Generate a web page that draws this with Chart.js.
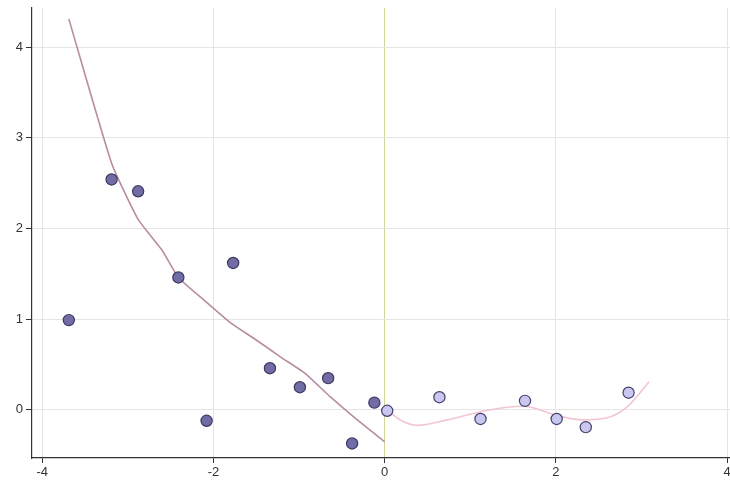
<!DOCTYPE html>
<html>
<head>
<meta charset="utf-8">
<script src="https://cdn.jsdelivr.net/npm/chart.js@4"></script>
<style>
  html, body { margin: 0; padding: 0; background: #fff; }
  canvas { display: block; }
</style>
</head>
<body>
<canvas id="chart" width="730" height="482"></canvas>
<script>
// observations left of zero (dark) and right of zero (light)
const leftX = [-3.69, -3.19, -2.88, -2.41, -2.08, -1.77, -1.34, -0.99, -0.66, -0.38, -0.12];
const leftY = [0.99, 2.54, 2.41, 1.46, -0.12, 1.62, 0.46, 0.25, 0.35, -0.37, 0.08];
const rightX = [0.03, 0.64, 1.12, 1.64, 2.01, 2.35, 2.85];
const rightY = [-0.01, 0.14, -0.10, 0.10, -0.10, -0.19, 0.19];

// fitted curves on each side
const fitLeftX = [-3.69, -3.19, -2.88, -2.60, -2.41, -2.11, -1.80, -1.53, -1.21, -0.94, -0.63, -0.32, 0];
const fitLeftY = [4.31, 2.72, 2.10, 1.76, 1.46, 1.21, 0.96, 0.79, 0.58, 0.41, 0.14, -0.11, -0.35];
const fitRightX = [0.03, 0.20, 0.38, 0.73, 1.12, 1.43, 1.62, 2.01, 2.31, 2.59, 2.83, 3.09];
const fitRightY = [0.00, -0.12, -0.17, -0.11, -0.02, 0.03, 0.04, -0.06, -0.11, -0.09, 0.03, 0.31];

const xTicks = [-4, -2, 0, 2, 4];
const yTicks = [0, 1, 2, 3, 4];

const toPts = (xs, ys) => xs.map((x, i) => ({x: x, y: ys[i]}));

const ctx = document.getElementById('chart').getContext('2d');
new Chart(ctx, {
  type: 'scatter',
  data: {
    datasets: [
      {
        data: toPts(leftX, leftY),
        backgroundColor: '#716ca6',
        borderColor: '#3b3960',
        borderWidth: 1.2,
        pointRadius: 5.6,
        order: 0
      },
      {
        data: toPts(rightX, rightY),
        backgroundColor: '#c9c7ef',
        borderColor: '#43416a',
        borderWidth: 1.2,
        pointRadius: 5.6,
        order: 0
      },
      {
        type: 'line',
        data: toPts(fitLeftX, fitLeftY),
        borderColor: '#b98ca2',
        borderWidth: 1.6,
        pointRadius: 0,
        tension: 0.15,
        fill: false,
        order: 1
      },
      {
        type: 'line',
        data: toPts(fitRightX, fitRightY),
        borderColor: '#f2c5d5',
        borderWidth: 1.6,
        pointRadius: 0,
        cubicInterpolationMode: 'monotone',
        fill: false,
        order: 1
      }
    ]
  },
  options: {
    responsive: false,
    animation: false,
    layout: { autoPadding: false, padding: { top: 8, right: 0, left: 0, bottom: 0 } },
    plugins: { legend: { display: false }, tooltip: { enabled: false } },
    scales: {
      x: {
        type: 'linear',
        min: -4.12,
        max: 4.035,
        afterBuildTicks: (s) => { s.ticks = xTicks.map(v => ({value: v})); },
        afterFit: (s) => { s.height = 24; s.paddingLeft = 0; s.paddingRight = 0; },
        ticks: {
          color: '#333',
          padding: 2,
          font: { family: 'Liberation Sans, Arial, sans-serif', size: 13 },
          maxRotation: 0
        },
        grid: {
          color: (c) => (xTicks[c.index] === 0 ? '#d2d596' : '#e5e5e5'),
          tickColor: '#333',
          tickLength: 5
        },
        border: { color: '#333', width: 1.2 }
      },
      y: {
        min: -0.53,
        max: 4.43,
        afterBuildTicks: (s) => { s.ticks = yTicks.map(v => ({value: v})); },
        afterFit: (s) => { s.width = 32; s.paddingTop = 0; s.paddingBottom = 0; },
        ticks: {
          color: '#333',
          padding: 3,
          font: { family: 'Liberation Sans, Arial, sans-serif', size: 13 }
        },
        grid: {
          color: '#e5e5e5',
          tickColor: '#333',
          tickLength: 6
        },
        border: { color: '#333', width: 1.2 }
      }
    }
  }
});
</script>
</body>
</html>
